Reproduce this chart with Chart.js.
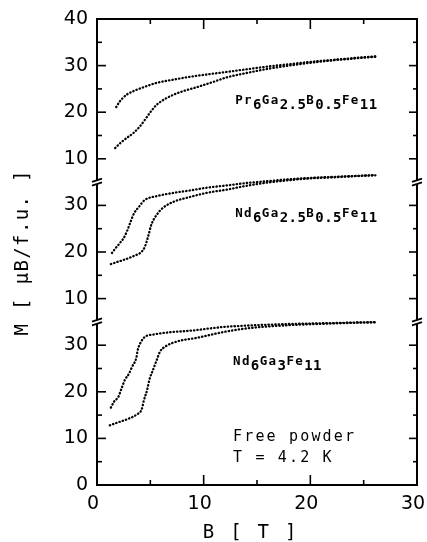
<!DOCTYPE html>
<html>
<head>
<meta charset="utf-8">
<script src="https://cdn.jsdelivr.net/npm/chart.js@4.4.1/dist/chart.umd.min.js"></script>
<style>
  html, body { margin: 0; padding: 0; background: #fff; }
  #wrap { width: 427px; height: 542px; position: relative; }
</style>
</head>
<body>
<div id="wrap"><canvas id="chart"></canvas></div>
<script>
// Magnetisation M (muB per formula unit) versus applied field B (tesla),
// free powder at T = 4.2 K. Three compounds, two branches each.

// Pr6Ga2.5B0.5Fe11 (top panel)
const fieldPrUpper  = [1.8, 2.1, 2.4, 2.8, 3.4, 4.3, 5.6, 7.2, 8.7, 10.3, 12, 14, 16, 18, 20, 22, 24, 26.1];
const momentPrUpper = [21.1, 22.2, 23.0, 23.8, 24.5, 25.3, 26.3, 27.0, 27.6, 28.1, 28.6, 29.2, 29.8, 30.3, 30.8, 31.2, 31.6, 32.0];
const fieldPrLower  = [1.7, 2.2, 2.8, 3.4, 4.0, 4.5, 5.0, 5.6, 6.5, 7.8, 9.4, 10.9, 12.2, 14, 16, 18, 20, 22, 24, 26.1];
const momentPrLower = [12.3, 13.4, 14.5, 15.5, 16.9, 18.4, 20.0, 21.6, 23.0, 24.3, 25.4, 26.5, 27.5, 28.4, 29.3, 30.0, 30.6, 31.1, 31.5, 31.9];

// Nd6Ga2.5B0.5Fe11 (middle panel)
const fieldNdbUpper  = [1.4, 1.7, 2.1, 2.5, 2.8, 3.1, 3.5, 3.9, 4.2, 4.5, 5.6, 7.2, 8.7, 10.3, 12.2, 14, 16, 18, 20, 22, 24, 26.1];
const momentNdbUpper = [19.8, 20.7, 21.8, 23.0, 24.4, 26.2, 28.4, 29.6, 30.5, 31.2, 32.0, 32.7, 33.2, 33.8, 34.3, 34.8, 35.2, 35.6, 35.9, 36.1, 36.3, 36.5];
const fieldNdbLower  = [1.3, 1.8, 2.5, 3.4, 4.2, 4.5, 4.8, 5.1, 5.6, 6.2, 7.2, 8.7, 10.3, 12.2, 14, 16, 18, 20, 22, 24, 26.1];
const momentNdbLower = [17.4, 17.8, 18.3, 19.1, 20.1, 21.2, 23.4, 25.9, 28.0, 29.5, 30.8, 31.8, 32.7, 33.4, 34.2, 34.9, 35.4, 35.8, 36.0, 36.25, 36.45];

// Nd6Ga3Fe11 (bottom panel)
const fieldNdUpper  = [1.3, 1.6, 2.0, 2.3, 2.6, 3.0, 3.3, 3.7, 3.8, 4.1, 4.5, 5.3, 6.5, 8.7, 11.8, 14, 16, 18, 20, 22, 24, 26.1];
const momentNdUpper = [16.6, 17.9, 18.9, 20.7, 22.5, 23.9, 25.4, 27.4, 28.8, 30.6, 31.8, 32.3, 32.7, 33.1, 33.9, 34.2, 34.4, 34.55, 34.65, 34.75, 34.85, 34.95];
const fieldNdLower  = [1.2, 1.8, 2.8, 3.7, 4.2, 4.4, 4.7, 4.9, 5.3, 5.6, 5.9, 6.4, 7.5, 9.4, 11.8, 14, 16, 18, 20, 22, 24, 26.1];
const momentNdLower = [12.8, 13.3, 14.1, 15.1, 16.3, 18.2, 20.4, 22.5, 25.0, 26.8, 28.6, 29.7, 30.8, 31.6, 32.8, 33.6, 34.0, 34.3, 34.5, 34.65, 34.8, 34.9];

// Axis ticks; the three panels share one stacked y scale
const xTickValues = [0, 10, 20, 30];
const xTickLabels = ['0', '10', '20', '30'];
const yTickValues = [0, 10, 20, 30, 40, 50, 60, 70, 80, 90, 100];
const yTickLabels = ['0', '10', '20', '30', '10', '20', '30', '10', '20', '30', '40'];
const yBreaks = [35, 65];

// Vertical shift applied to each panel on the stacked scale
const panelShift = { nd: 0, ndb: 30, pr: 60 };

// Compound names: [text, isSubscript]
const namePr  = [['Pr', 0], ['6', 1], ['Ga', 0], ['2.5', 1], ['B', 0], ['0.5', 1], ['Fe', 0], ['11', 1]];
const nameNdb = [['Nd', 0], ['6', 1], ['Ga', 0], ['2.5', 1], ['B', 0], ['0.5', 1], ['Fe', 0], ['11', 1]];
const nameNd  = [['Nd', 0], ['6', 1], ['Ga', 0], ['3', 1], ['Fe', 0], ['11', 1]];

function series(fields, moments, shift) {
  return fields.map((b, i) => ({ x: b, y: moments[i] + shift }));
}

function dotted(data) {
  return {
    data,
    showLine: true,
    borderColor: '#000',
    backgroundColor: '#000',
    borderWidth: 2.3,
    borderDash: [0.4, 3.0],
    borderCapStyle: 'round',
    pointRadius: 0,
    cubicInterpolationMode: 'monotone',
    fill: false
  };
}

const datasets = [
  dotted(series(fieldPrUpper, momentPrUpper, panelShift.pr)),
  dotted(series(fieldPrLower, momentPrLower, panelShift.pr)),
  dotted(series(fieldNdbUpper, momentNdbUpper, panelShift.ndb)),
  dotted(series(fieldNdbLower, momentNdbLower, panelShift.ndb)),
  dotted(series(fieldNdUpper, momentNdUpper, panelShift.nd)),
  dotted(series(fieldNdLower, momentNdLower, panelShift.nd))
];

const MONO = '"DejaVu Sans Mono", "Liberation Mono", monospace';

function line(ctx, x1, y1, x2, y2) {
  ctx.beginPath();
  ctx.moveTo(x1, y1);
  ctx.lineTo(x2, y2);
  ctx.stroke();
}

// Draws a string one glyph at a time with a fixed advance
function spaced(ctx, text, x0, y, step) {
  [...text].forEach((ch, i) => ctx.fillText(ch, x0 + i * step, y));
}

function drawFormula(ctx, parts, x0, base) {
  let i = 0;
  ctx.textAlign = 'left';
  ctx.textBaseline = 'alphabetic';
  parts.forEach(([txt, sub]) => {
    ctx.font = sub ? 'bold 14px ' + MONO : 'bold 12.5px ' + MONO;
    for (const ch of txt) {
      ctx.fillText(ch, x0 + i * 8.9, sub ? base + 5.5 : base);
      i++;
    }
  });
}

const framePlugin = {
  id: 'frame',
  afterDraw(chart) {
    const { ctx, chartArea: a, scales: { x, y } } = chart;
    ctx.save();
    ctx.strokeStyle = '#000';
    ctx.fillStyle = '#000';
    ctx.lineCap = 'butt';

    // frame
    ctx.lineWidth = 2;
    ctx.strokeRect(a.left, a.top, a.right - a.left, a.bottom - a.top);

    // inward ticks on top and bottom
    ctx.lineWidth = 1.6;
    for (let v = 5; v < 30; v += 5) {
      const len = v % 10 === 0 ? 10 : 5;
      const px = x.getPixelForValue(v);
      line(ctx, px, a.bottom, px, a.bottom - len);
      line(ctx, px, a.top, px, a.top + len);
    }
    // inward ticks on left and right, skipping the axis breaks
    for (let v = 5; v < 100; v += 5) {
      if (yBreaks.includes(v)) continue;
      const major = v % 10 === 0;
      const py = y.getPixelForValue(v);
      line(ctx, a.left, py, a.left + (major ? 9 : 5), py);
      line(ctx, a.right, py, a.right - (major ? 8 : 4), py);
    }

    // axis break marks
    yBreaks.forEach(v => {
      const py = y.getPixelForValue(v);
      [a.left, a.right].forEach(px => {
        ctx.fillStyle = '#fff';
        ctx.fillRect(px - 2, py - 2, 4, 4);
        ctx.fillStyle = '#000';
        ctx.lineWidth = 1.8;
        line(ctx, px - 5, py - 0.3, px + 5, py - 3.5);
        line(ctx, px - 5, py + 3.5, px + 5, py + 0.3);
      });
    });

    // compound names
    drawFormula(ctx, namePr, x.getPixelForValue(12.95), y.getPixelForValue(81.8));
    drawFormula(ctx, nameNdb, x.getPixelForValue(12.95), y.getPixelForValue(57.6));
    drawFormula(ctx, nameNd, x.getPixelForValue(12.75), y.getPixelForValue(25.8));

    // measurement conditions
    ctx.font = '15px ' + MONO;
    ctx.textAlign = 'left';
    spaced(ctx, 'Free powder', x.getPixelForValue(12.75), y.getPixelForValue(9.5), 11.2);
    spaced(ctx, 'T = 4.2 K', x.getPixelForValue(12.75), y.getPixelForValue(4.9), 11.2);

    // axis titles
    ctx.font = '19px ' + MONO;
    ctx.textAlign = 'center';
    ctx.textBaseline = 'alphabetic';
    spaced(ctx, 'B [ T ]', 208.5, 538, 13.7);

    ctx.translate(28, 253);
    ctx.rotate(-Math.PI / 2);
    const yTitle = 'M [ \u03bcB/f.u. ]';
    const n = [...yTitle].length;
    spaced(ctx, yTitle, -((n - 1) * 12.8) / 2, 0, 12.8);
    ctx.restore();
  }
};

new Chart(document.getElementById('chart'), {
  type: 'scatter',
  data: { datasets },
  options: {
    responsive: true,
    maintainAspectRatio: false,
    animation: false,
    layout: { padding: { top: 19, right: 10, left: 0, bottom: 0 } },
    plugins: { legend: { display: false }, tooltip: { enabled: false } },
    scales: {
      x: {
        type: 'linear',
        min: 0,
        max: 30,
        afterBuildTicks: s => { s.ticks = xTickValues.map(v => ({ value: v })); },
        afterFit: s => { s.height = 57; s.paddingLeft = 0; s.paddingRight = 0; },
        grid: { display: false, drawTicks: false },
        border: { display: false },
        ticks: {
          padding: 8,
          labelOffset: -4,
          color: '#000',
          font: { family: 'DejaVu Sans', size: 19 },
          maxRotation: 0,
          callback: v => xTickLabels[xTickValues.indexOf(v)] ?? ''
        }
      },
      y: {
        type: 'linear',
        min: 0,
        max: 100,
        afterBuildTicks: s => { s.ticks = yTickValues.map(v => ({ value: v })); },
        afterFit: s => { s.width = 97; s.paddingTop = 0; s.paddingBottom = 0; },
        grid: { display: false, drawTicks: false },
        border: { display: false },
        ticks: {
          padding: 9,
          color: '#000',
          font: { family: 'DejaVu Sans', size: 19 },
          callback: v => yTickLabels[yTickValues.indexOf(v)] ?? ''
        }
      }
    }
  },
  plugins: [framePlugin]
});
</script>
</body>
</html>
